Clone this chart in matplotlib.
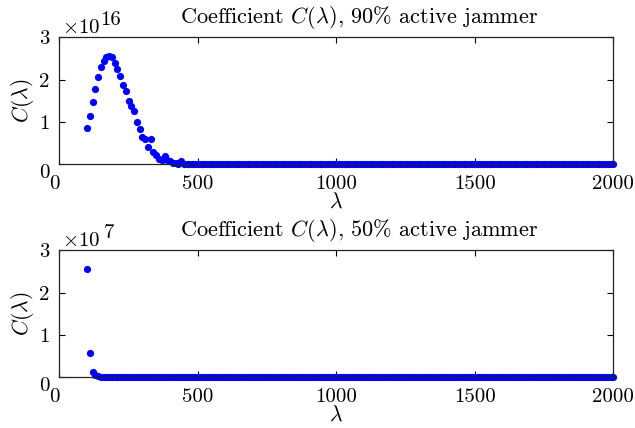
import matplotlib

matplotlib.use("Agg")

import matplotlib.pyplot as plt
import numpy as np

plt.rcParams["font.family"] = "serif"
plt.rcParams["font.serif"] = ["cmr10"]
plt.rcParams["mathtext.fontset"] = "cm"
plt.rcParams["axes.unicode_minus"] = False

# lambda grid: 100..2000, step 10
lam = np.arange(100, 2001, 10)

# 90% active jammer, C(lambda) (units of 1e16)
c90_head = [0.85, 1.15, 1.48, 1.79, 2.06, 2.29, 2.43, 2.53, 2.57, 2.53,
            2.40, 2.26, 2.09, 1.88, 1.73, 1.50, 1.39, 1.27, 1.01, 0.83,
            0.64, 0.61, 0.42, 0.60, 0.29, 0.22, 0.13, 0.10, 0.20, 0.10,
            0.07, 0.03, 0.03, 0.02, 0.07, 0.02, 0.01, 0.01]
c90 = c90_head + [0.0] * (len(lam) - len(c90_head))

# 50% active jammer (units of 1e7)
c50_head = [2.55, 0.57, 0.13, 0.05, 0.02, 0.01]
c50 = c50_head + [0.0] * (len(lam) - len(c50_head))

xticks = [0, 500, 1000, 1500, 2000]
yticks = [0, 1, 2, 3]

panels = [
    (c90, 16, "90%", 0.616, 41),
    (c50, 7, "50%", 0.1185, 45),
]

fig = plt.figure(figsize=(6.35, 4.28), dpi=100)
for vals, expo, pct, bottom, exp_dx in panels:
    ax = fig.add_axes([0.0934, bottom, 0.8724, 0.2967])
    scale = 10.0 ** expo
    y = np.array(vals) * scale
    ax.plot(lam, y, "o", color="#0000ff", ms=5.2, mec="none", clip_on=False)
    ax.set_xlim(0, 2000)
    ax.set_ylim(0, 3 * scale)
    ax.set_xticks(xticks)
    ax.set_xticklabels([str(t) for t in xticks])
    ax.set_yticks([t * scale for t in yticks])
    ax.set_yticklabels([str(t) for t in yticks])
    ax.tick_params(direction="in", top=True, right=True, length=4,
                   labelsize=15, width=0.8)
    ax.tick_params(axis="x", pad=8)
    ax.tick_params(axis="y", pad=7)
    # matlab-style corner zeros
    ax.xaxis.get_major_ticks()[0].label1.set_horizontalalignment("right")
    ax.yaxis.get_major_ticks()[0].label1.set_verticalalignment("top")
    for s in ax.spines.values():
        s.set_linewidth(0.9)
        s.set_color("#222222")
    ax.set_xlabel(r"$\lambda$", fontsize=15.5, labelpad=-1)
    ax.set_ylabel(r"$C(\lambda)$", fontsize=15.5, labelpad=2)
    ax.set_title(r"Coefficient $C(\lambda)$, " + pct + " active jammer",
                 fontsize=16, x=0.541, pad=10)
    # exponent label
    ax.annotate(r"$\times 10$", xy=(0, 1), xycoords="axes fraction",
                xytext=(3, 4), textcoords="offset pixels",
                ha="left", va="baseline", fontsize=15)
    ax.annotate(str(expo), xy=(0, 1), xycoords="axes fraction",
                xytext=(exp_dx, 12), textcoords="offset pixels",
                ha="left", va="baseline", fontsize=15)

fig.savefig("out.png", dpi=100)
